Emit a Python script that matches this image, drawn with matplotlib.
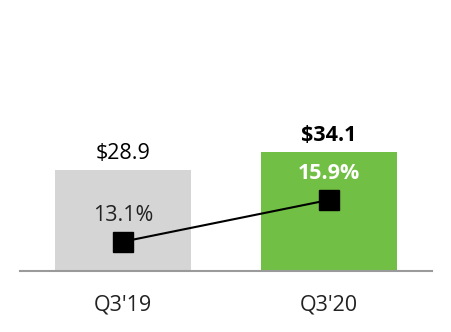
import matplotlib
matplotlib.use("Agg")
import matplotlib.pyplot as plt

# data
quarters = ["Q3'19", "Q3'20"]
revenue = [28.9, 34.1]
revenue_labels = ["$28.9", "$34.1"]
margin = [13.1, 15.9]
margin_labels = ["13.1%", "15.9%"]

bar_colors = ["#d5d5d5", "#71bf44"]

plt.rcParams["font.family"] = ["Open Sans", "DejaVu Sans"]
FS = 15.5

fig = plt.figure(figsize=(4.52, 3.32), dpi=100)
ax = fig.add_axes([20 / 452, 61 / 332, 412 / 452, 271 / 332])

x = list(range(len(quarters)))
ax.bar(x, revenue, width=0.66, color=bar_colors, zorder=2)
ax.set_xlim(-0.5, 1.5)
ax.set_ylim(0, 77.65)

# value labels above bars
for i, (v, lab) in enumerate(zip(revenue, revenue_labels)):
    bold = i == 1
    ax.annotate(lab, (i, v), xytext=(0, 12),
                textcoords="offset points", ha="center", va="center",
                fontsize=FS, fontweight="bold" if bold else "normal",
                color="black")

for s in ["top", "right", "left"]:
    ax.spines[s].set_visible(False)
ax.spines["bottom"].set_color("#9a9a9a")
ax.spines["bottom"].set_linewidth(1.5)
ax.set_yticks([])
ax.set_xticks(x)
ax.set_xticklabels(quarters, fontsize=FS, color="#222222")
ax.tick_params(axis="x", length=0, pad=17)

# margin line on secondary axis
ax2 = ax.twinx()
ax2.set_ylim(11.13, 29.32)
ax2.plot(x, margin, color="black", linewidth=1.5, marker="s",
         markersize=14.4, zorder=3)
for s in ax2.spines.values():
    s.set_visible(False)
ax2.set_yticks([])

for i, (v, lab) in enumerate(zip(margin, margin_labels)):
    bold = i == 1
    ax2.annotate(lab, (i, v), xytext=(0, 19), textcoords="offset points",
                 ha="center", va="center", fontsize=FS,
                 fontweight="bold" if bold else "normal",
                 color="white" if bold else "#222222")

fig.savefig("out.png", dpi=100)
